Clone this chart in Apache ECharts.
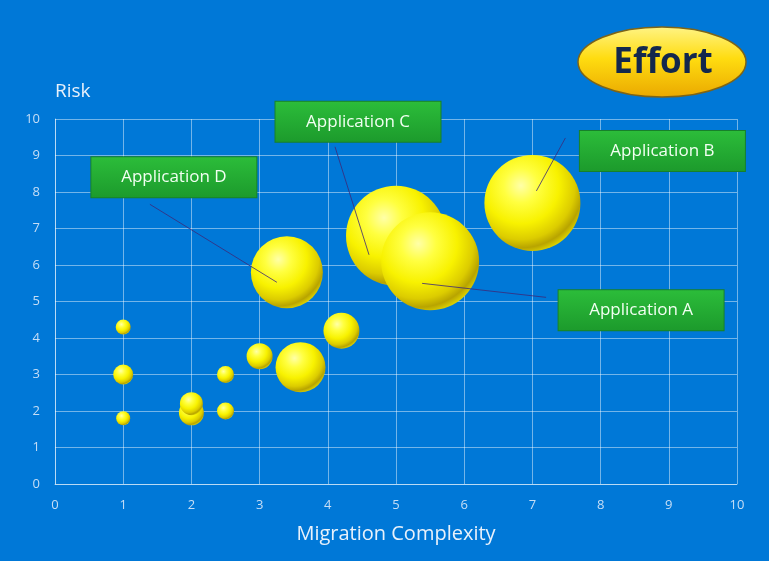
<!DOCTYPE html>
<html>
<head>
<meta charset="utf-8">
<script src="https://cdn.jsdelivr.net/npm/echarts@6/dist/echarts.min.js"></script>
<style>
  html, body { margin: 0; padding: 0; background: #0078d7; }
  #main { width: 769px; height: 561px; }
</style>
</head>
<body>
<div id="main"></div>
<script>
// data
var appNames   = ['', '', '', '', '', '', '', '', '', '', 'Application D', 'Application C', 'Application A', 'Application B'];
var complexity = [1,   1,   1,   2,    2,   2.5, 2.5, 3,   4.2, 3.6, 3.4, 5,   5.5, 7];
var risk       = [1.8, 3,   4.3, 1.95, 2.2, 2,   3,   3.5, 4.2, 3.2, 5.8, 6.8, 6.1, 7.7];
var effort     = [1.4, 2.0, 1.5, 2.5,  2.3, 1.7, 1.7, 2.6, 3.6, 5.0, 7.2, 10,  9.8, 9.6];
var xTicks = [0, 10, 1];
var yTicks = [0, 10, 1];

// label box offsets from bubble centre (px)
var labelOffsets = {
  'Application A': [211, 49],
  'Application B': [130, -52],
  'Application C': [-38, -114],
  'Application D': [-113, -95]
};
// leader line: start / end offsets from bubble centre (px)
var leaderOffsets = {
  'Application A': [-8, 22, 116, 36],
  'Application B': [4, -12, 33, -65],
  'Application C': [-27, 19, -61, -89],
  'Application D': [-10, 10, -137, -68]
};

var sphere = new echarts.graphic.RadialGradient(0.38, 0.32, 0.72, [
  { offset: 0, color: '#ffffa8' },
  { offset: 0.25, color: '#ffff40' },
  { offset: 0.55, color: '#f8f200' },
  { offset: 0.78, color: '#dccc00' },
  { offset: 0.9, color: '#b8a400' },
  { offset: 1, color: '#e0d600' }
]);

var boxFill = new echarts.graphic.LinearGradient(0, 0, 0, 1, [
  { offset: 0, color: '#2cbd3a' },
  { offset: 1, color: '#1c9a2c' }
]);

var points = complexity.map(function (x, i) {
  var item = { name: appNames[i], value: [x, risk[i], effort[i]] };
  if (appNames[i]) item.label = { show: true };
  return item;
});

var leaders = [];
appNames.forEach(function (n, i) {
  if (n) leaders.push({ name: n, value: [complexity[i], risk[i]] });
});

var chart = echarts.init(document.getElementById('main'));
chart.setOption({
  backgroundColor: '#0078d7',
  animation: false,
  grid: { left: 55, right: 32, top: 119, bottom: 77 },
  xAxis: {
    type: 'value',
    min: xTicks[0], max: xTicks[1], interval: xTicks[2],
    name: 'Migration Complexity',
    nameLocation: 'middle',
    nameGap: 40,
    nameTextStyle: { color: '#e8f1fb', fontSize: 20, fontFamily: 'Open Sans' },
    axisLine: { lineStyle: { color: 'rgba(255,255,255,0.5)' } },
    axisTick: { show: false },
    axisLabel: { color: '#c6def6', fontSize: 13, margin: 15, fontFamily: 'Open Sans' },
    splitLine: { lineStyle: { color: 'rgba(255,255,255,0.45)' } }
  },
  yAxis: {
    type: 'value',
    min: yTicks[0], max: yTicks[1], interval: yTicks[2],
    name: 'Risk',
    nameLocation: 'end',
    nameGap: 18,
    nameTextStyle: { color: '#e8f1fb', fontSize: 19, align: 'left', fontFamily: 'Open Sans' },
    axisLine: { show: true, lineStyle: { color: 'rgba(255,255,255,0.5)' } },
    axisTick: { show: false },
    axisLabel: { color: '#c6def6', fontSize: 13, margin: 15, fontFamily: 'Open Sans' },
    splitLine: { lineStyle: { color: 'rgba(255,255,255,0.45)' } }
  },
  graphic: [{
    type: 'ellipse',
    shape: { cx: 662, cy: 62, rx: 84, ry: 35 },
    style: {
      fill: new echarts.graphic.LinearGradient(0, 0, 0, 1, [
        { offset: 0, color: '#fff486' },
        { offset: 0.45, color: '#ffdc10' },
        { offset: 1, color: '#eaa800' }
      ]),
      stroke: '#7d6418',
      lineWidth: 1.5
    }
  }, {
    type: 'text',
    x: 663, y: 63,
    style: {
      text: 'Effort',
      fill: '#13284d',
      font: 'bold 35px "Open Sans"',
      align: 'center',
      verticalAlign: 'middle'
    }
  }],
  series: [{
    type: 'scatter',
    data: points,
    symbolSize: function (v) { return v[2] * 10; },
    itemStyle: { color: sphere, opacity: 1 },
    emphasis: { disabled: true },
    label: {
      show: false,
      position: 'inside',
      formatter: '{b}',
      color: '#f2fff2',
      fontSize: 17,
      fontFamily: 'Open Sans',
      backgroundColor: boxFill,
      borderColor: '#17802a',
      borderWidth: 1,
      width: 165,
      height: 40,
      lineHeight: 40,
      align: 'center',
      verticalAlign: 'middle'
    },
    labelLayout: function (params) {
      var off = labelOffsets[appNames[params.dataIndex]];
      if (!off) return {};
      return { dx: off[0], dy: off[1] };
    }
  }, {
    type: 'custom',
    z: 3,
    silent: true,
    data: leaders,
    renderItem: function (params, api) {
      var p = api.coord([api.value(0), api.value(1)]);
      var o = leaderOffsets[leaders[params.dataIndex].name];
      return {
        type: 'line',
        shape: { x1: p[0] + o[0], y1: p[1] + o[1], x2: p[0] + o[2], y2: p[1] + o[3] },
        style: { stroke: 'rgba(60,40,120,0.8)', lineWidth: 1 }
      };
    }
  }]
});
</script>
</body>
</html>
